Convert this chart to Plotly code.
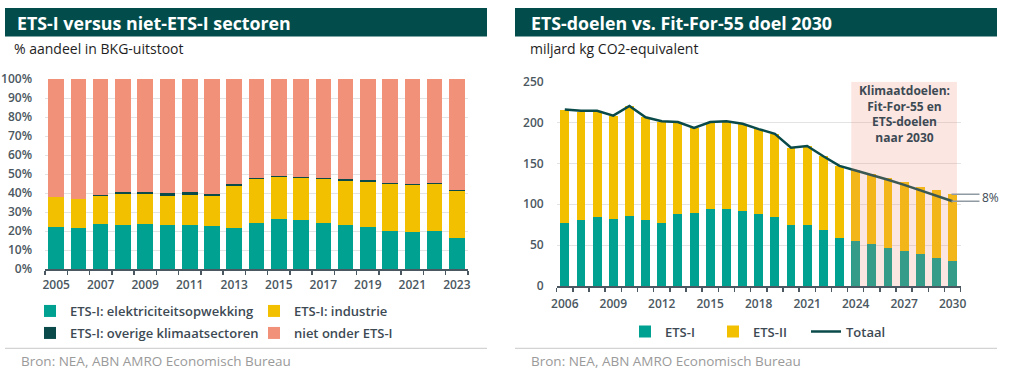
import plotly.graph_objects as go

# ---------------- data ----------------
years_left = list(range(2005, 2024))
elektriciteit = [22.3, 21.7, 23.5, 23.2, 23.7, 23.3, 23.3, 22.6, 21.7, 24.2, 26.1, 25.6, 24.2, 23.2, 22.1, 19.8, 19.3, 19.8, 16.3]
industrie = [15.4, 15.0, 14.9, 16.3, 15.8, 15.3, 15.6, 16.0, 22.2, 23.2, 22.2, 22.5, 23.2, 23.3, 23.9, 25.1, 25.1, 24.8, 24.8]
overige = [0.0, 0.0, 0.3, 0.8, 0.8, 1.4, 1.4, 0.9, 0.8, 0.7, 0.6, 0.5, 0.5, 0.9, 0.8, 0.5, 0.3, 0.7, 0.5]
niet_ets = [62.3, 63.3, 61.3, 59.7, 59.7, 60.0, 59.7, 60.5, 55.3, 51.9, 51.1, 51.4, 52.1, 52.6, 53.2, 54.6, 55.3, 54.7, 58.4]
left_ticks = list(range(2005, 2024, 2))

years_right = list(range(2006, 2031))
ets1 = [77.5, 80.4, 84.4, 81.6, 85.3, 80.4, 77.1, 87.7, 89.8, 94.6, 94.6, 92.2, 87.7, 84.4, 75.1, 75.1, 68.9, 59.2, 55.1, 51.4, 46.9, 42.8, 39.2, 34.7, 31.0]
ets2 = [137.9, 133.0, 129.0, 126.9, 135.0, 126.1, 124.0, 112.6, 103.2, 106.5, 107.4, 105.7, 104.0, 101.6, 94.2, 96.3, 90.2, 87.7, 86.9, 85.7, 85.3, 84.1, 82.3, 82.4, 81.2]
totaal = [216.0, 214.5, 214.5, 208.5, 220.3, 206.5, 201.5, 200.7, 193.4, 200.7, 201.5, 198.5, 192.0, 186.3, 169.3, 171.4, 158.8, 147.0, 141.4, 136.1, 130.0, 123.8, 116.9, 109.9, 103.7]
right_ticks = [2006, 2009, 2012, 2015, 2018, 2021, 2024, 2027, 2030]
target_start, target_end = 2024, 2030
gap_label = "8%"

# ---------------- style ----------------
W, H = 1010, 377
GREEN = "#00a190"
YELLOW = "#f3c000"
SALMON = "#f2917a"
DARK = "#0a4a4a"
BAND = "#024d4c"
TICK = "#4b5761"
FONT = "Open Sans"


def px(x):
    return x / W


def py(y):
    return 1 - y / H


fig = go.Figure()

# left chart traces
fig.add_bar(x=years_left, y=elektriciteit, name="ETS-I: elektriciteitsopwekking",
            marker_color=GREEN, xaxis="x", yaxis="y", legend="legend")
fig.add_bar(x=years_left, y=industrie, name="ETS-I: industrie",
            marker_color=YELLOW, xaxis="x", yaxis="y", legend="legend2")
fig.add_bar(x=years_left, y=overige, name="ETS-I: overige klimaatsectoren",
            marker_color=DARK, xaxis="x", yaxis="y", legend="legend3")
fig.add_bar(x=years_left, y=niet_ets, name="niet onder ETS-I",
            marker_color=SALMON, xaxis="x", yaxis="y", legend="legend4")

# right chart traces
fig.add_bar(x=years_right, y=ets1, name="ETS-I", marker_color=GREEN,
            xaxis="x2", yaxis="y2", legend="legend5", width=0.55)
fig.add_bar(x=years_right, y=ets2, name="ETS-II", marker_color=YELLOW,
            xaxis="x2", yaxis="y2", legend="legend6", width=0.55)
fig.add_scatter(x=years_right, y=totaal, name="Totaal", mode="lines",
                line=dict(color=DARK, width=2.5), xaxis="x2", yaxis="y2", legend="legend7")

for t in fig.data:
    if t.type == "bar":
        t.update(marker_line_width=0)

axis_common = dict(showline=True, linecolor=TICK, linewidth=1.5, ticks="", automargin=False,
                   tickfont=dict(family=FONT, size=12, color=TICK, weight=600),
                   showgrid=False, zeroline=False, fixedrange=True)
yaxis_common = dict(showgrid=True, gridcolor="#e3e3e3", gridwidth=1, zeroline=False,
                    showline=False, ticks="", automargin=False,
                    tickfont=dict(family=FONT, size=12, color=TICK, weight=600),
                    fixedrange=True)

legend_common = dict(orientation="h", bgcolor="rgba(0,0,0,0)", borderwidth=0,
                     font=dict(family=FONT, size=13, color="#3d4a54", weight=600),
                     yanchor="middle", xanchor="left",
                     itemclick=False, itemdoubleclick=False)


def leg(text_x, text_y):
    # plotly puts legend text ~41px right of the legend's left edge
    return dict(x=px(text_x - 41), y=py(text_y), **legend_common)


fig.update_layout(
    template="none",
    width=W, height=H, margin=dict(l=0, r=0, t=0, b=0, autoexpand=False),
    paper_bgcolor="white", plot_bgcolor="white",
    barmode="stack", bargap=0.3,
    font=dict(family=FONT),
    xaxis=dict(domain=[px(45), px(468)], range=[2004.5, 2023.5], anchor="y",
               tickvals=left_ticks, ticklabelstandoff=4,
               minor=dict(ticks="outside", ticklen=4, tickwidth=1.5, tickcolor=TICK,
                          tick0=2004.5, dtick=1, showgrid=False),
               **axis_common),
    yaxis=dict(domain=[py(269), py(79)], range=[0, 100], dtick=10, ticksuffix="%", anchor="x",
               ticklabelstandoff=12, **yaxis_common),
    xaxis2=dict(domain=[px(556.7), px(960.7)], range=[2005.5, 2030.5], anchor="y2",
                tickvals=right_ticks, ticklabelstandoff=6,
                minor=dict(ticks="outside", ticklen=4, tickwidth=1.5, tickcolor=TICK,
                           tick0=2005.5, dtick=1, showgrid=False),
                **axis_common),
    yaxis2=dict(domain=[py(286), py(81.7)], range=[0, 250], dtick=50, anchor="x2",
                ticklabelstandoff=12, **yaxis_common),
    legend=leg(71, 311),
    legend2=leg(295, 311),
    legend3=leg(71, 333),
    legend4=leg(295, 333),
    legend5=leg(666, 331.5),
    legend6=leg(754, 331.5),
    legend7=leg(847, 331.5),
    showlegend=True,
)

shapes = []
annotations = []

# title bands
shapes.append(dict(type="rect", xref="paper", yref="paper", x0=px(5), x1=px(487),
                   y0=py(36.5), y1=py(8), fillcolor=BAND, line_width=0, layer="below"))
shapes.append(dict(type="rect", xref="paper", yref="paper", x0=px(515), x1=px(997),
                   y0=py(36.5), y1=py(8), fillcolor=BAND, line_width=0, layer="below"))
annotations.append(dict(text="<b>ETS-I versus niet-ETS-I sectoren</b>", xref="paper", yref="paper",
                        x=px(15), y=py(22.5), xanchor="left", yanchor="middle", showarrow=False,
                        font=dict(family=FONT, size=17.8, color="white")))
annotations.append(dict(text="<b>ETS-doelen vs. Fit-For-55 doel 2030</b>", xref="paper", yref="paper",
                        x=px(529), y=py(22.5), xanchor="left", yanchor="middle", showarrow=False,
                        font=dict(family=FONT, size=17.8, color="white")))
# subtitles
annotations.append(dict(text="% aandeel in BKG-uitstoot", xref="paper", yref="paper",
                        x=px(12), y=py(48.5), xanchor="left", yanchor="middle", showarrow=False,
                        font=dict(family=FONT, size=14, color="#1e1e1e")))
annotations.append(dict(text="miljard kg CO2-equivalent", xref="paper", yref="paper",
                        x=px(528), y=py(48.5), xanchor="left", yanchor="middle", showarrow=False,
                        font=dict(family=FONT, size=14, color="#1e1e1e")))
# source lines
for x0, x1, xt in [(5, 487, 19), (515, 997, 529)]:
    shapes.append(dict(type="line", xref="paper", yref="paper", x0=px(x0), x1=px(x1),
                       y0=py(348.3), y1=py(348.3), line=dict(color="#c8c8c8", width=1)))
    annotations.append(dict(text="Bron: NEA, ABN AMRO Economisch Bureau", xref="paper", yref="paper",
                            x=px(xt), y=py(361), xanchor="left", yanchor="middle", showarrow=False,
                            font=dict(family=FONT, size=13.5, color="#9a9a9a")))

# target shading on right chart
shapes.append(dict(type="rect", xref="x2", yref="y2", x0=target_start - 0.27, x1=target_end + 0.27,
                   y0=0, y1=250, fillcolor="rgba(240,140,118,0.22)", line_width=0, layer="above"))
annotations.append(dict(text="<b>Klimaatdoelen:<br>Fit-For-55 en<br>ETS-doelen<br>naar 2030</b>",
                        xref="x2", yref="paper", x=(target_start + target_end) / 2, y=py(114),
                        xanchor="center", yanchor="middle", showarrow=False, align="center",
                        font=dict(family=FONT, size=12, color="#3d4a54")))
# 8% bracket
bar_top_2030 = ets1[-1] + ets2[-1]
for yv in [bar_top_2030, totaal[-1]]:
    shapes.append(dict(type="line", xref="paper", yref="y2", x0=px(951.5), x1=px(979.5),
                       y0=yv, y1=yv, line=dict(color="#8f9aa3", width=1.5)))
annotations.append(dict(text=gap_label, xref="paper", yref="y2", x=px(980), y=(bar_top_2030 + totaal[-1]) / 2,
                        xanchor="left", yanchor="middle", showarrow=False,
                        font=dict(family=FONT, size=12, color="#3d4a54")))

fig.update_layout(shapes=shapes, annotations=annotations)

# remove the browser's default 8px body margin so the figure fills the window
fig.write_html("out.html",
               config={"displayModeBar": False, "staticPlot": True},
               post_script="document.body.style.margin='0';document.body.style.overflow='hidden';")
